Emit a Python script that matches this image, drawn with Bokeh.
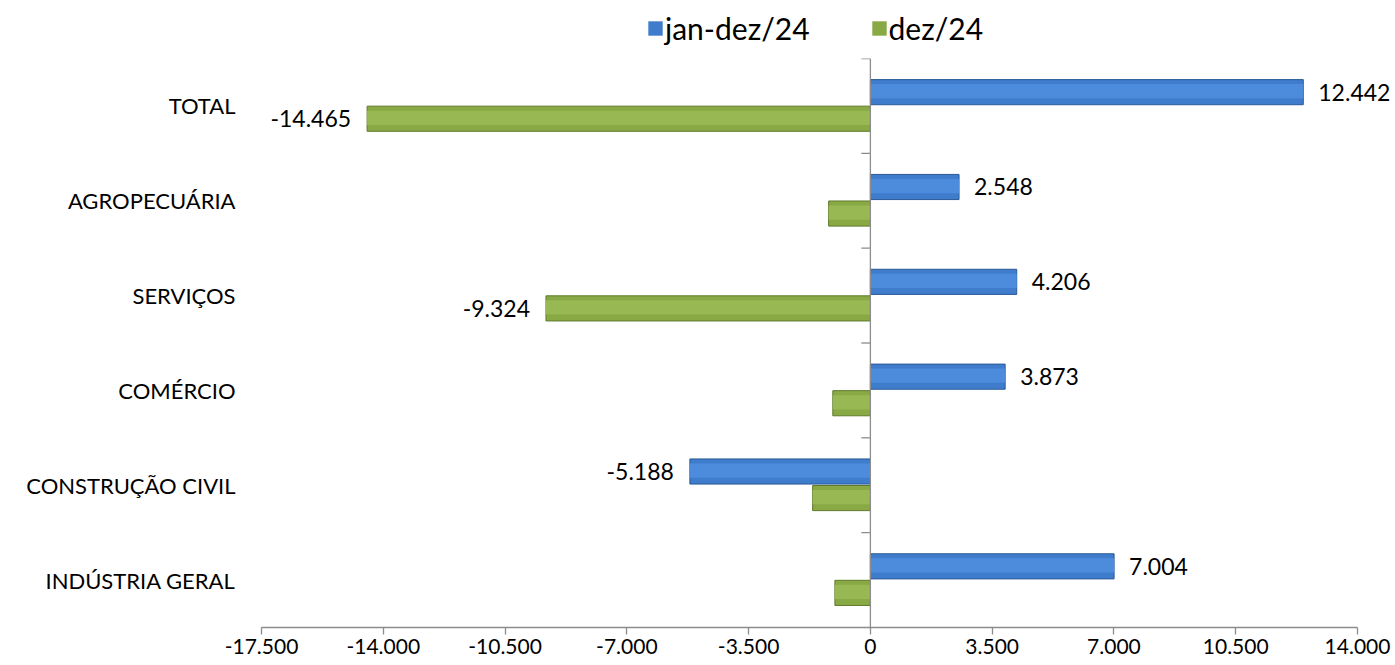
from bokeh.plotting import figure
from bokeh.layouts import column
from bokeh.models import (ColumnDataSource, FactorRange, FixedTicker, CustomJSTickFormatter,
                          Legend, LegendItem, LabelSet, Range1d)
from bokeh.transform import dodge
from bokeh.core.properties import value
from bokeh.embed import file_html
from bokeh.resources import INLINE

categories = ["TOTAL", "AGROPECUÁRIA", "SERVIÇOS", "COMÉRCIO", "CONSTRUÇÃO CIVIL", "INDÚSTRIA GERAL"]
series_names = ["jan-dez/24", "dez/24"]
jan_dez = [12442, 2548, 4206, 3873, -5188, 7004]
dez = [-14465, -1200, -9324, -1080, -1660, -1020]
show_dez_label = [True, False, True, False, False, False]
x_ticks = [-17500, -14000, -10500, -7000, -3500, 0, 3500, 7000, 10500, 14000]

FONT = "Lato"
AXIS_COLOR = "#8c8c8c"
BLUE, BLUE_LINE, BLUE_HI = "#3f7ccc", "#2a5a98", "#4d8cdc"
GREEN, GREEN_LINE, GREEN_HI = "#88a944", "#5f7a2a", "#98b853"

W, H_TOTAL, LEG_H = 1395, 665, 58
LEFT, RIGHT_PAD, BOTTOM = 261, 38, 38


def fmt(v):
    s = f"{abs(v):,}".replace(",", ".")
    return ("-" if v < 0 else "") + s


src = ColumnDataSource(dict(cat=categories, a=jan_dez, b=dez))

# frame extends to the right edge so that outer labels are not clipped
frame_w = W - LEFT
x_end = x_ticks[0] + (x_ticks[-1] - x_ticks[0]) * frame_w / (frame_w - RIGHT_PAD)

p = figure(width=W, height=H_TOTAL - LEG_H, output_backend="svg", toolbar_location=None,
           y_range=FactorRange(factors=list(reversed(categories))),
           x_range=Range1d(x_ticks[0], x_end),
           min_border_left=LEFT, min_border_right=0, min_border_top=0, min_border_bottom=BOTTOM)
p.outline_line_color = None
p.xgrid.visible = False
p.ygrid.visible = False
p.background_fill_color = "white"
p.border_fill_color = "white"

DA, DB, BH = 0.145, -0.135, 0.265
rb = p.hbar(y=dodge("cat", DA, range=p.y_range), left=0, right="a", height=BH, source=src,
            fill_color=BLUE, line_color=BLUE_LINE, line_width=1)
rg = p.hbar(y=dodge("cat", DB, range=p.y_range), left=0, right="b", height=BH, source=src,
            fill_color=GREEN, line_color=GREEN_LINE, line_width=1)
p.hbar(y=dodge("cat", DA + 0.01, range=p.y_range), left=0, right="a", height=0.15, source=src,
       fill_color=BLUE_HI, line_color=None)
p.hbar(y=dodge("cat", DB + 0.01, range=p.y_range), left=0, right="b", height=0.15, source=src,
       fill_color=GREEN_HI, line_color=None)

# vertical zero axis with category tick marks
tick_src = ColumnDataSource(dict(cat=categories, zero=[0] * len(categories)))
p.segment(x0="zero", x1="zero", y0=dodge("cat", 0.5, range=p.y_range), y1=dodge("cat", -0.5, range=p.y_range),
          source=tick_src, line_color=AXIS_COLOR, line_width=1.3)
p.segment(x0=-260, x1="zero", y0=dodge("cat", 0.5, range=p.y_range), y1=dodge("cat", 0.5, range=p.y_range),
          source=tick_src, line_color=AXIS_COLOR, line_width=1.3)

# data labels
pos_a = [(c, v, fmt(v)) for c, v in zip(categories, jan_dez) if v >= 0]
neg_a = [(c, v, fmt(v)) for c, v in zip(categories, jan_dez) if v < 0]
neg_b = [(c, v, fmt(v)) for c, v, s in zip(categories, dez, show_dez_label) if s]


def mk(rows):
    return ColumnDataSource(dict(cat=[r[0] for r in rows], x=[r[1] for r in rows], t=[r[2] for r in rows]))


for rows, dy, xo, align in [(pos_a, DA, 15, "left"), (neg_a, DA, -16, "right"), (neg_b, DB, -16, "right")]:
    p.add_layout(LabelSet(x="x", y=dodge("cat", dy, range=p.y_range), text="t", source=mk(rows),
                          x_offset=xo, text_align=align, text_baseline="middle", text_font=value(FONT),
                          text_font_size="23px", text_color="black"))

# x axis
p.xaxis.bounds = (x_ticks[0], x_ticks[-1])
p.xaxis.ticker = FixedTicker(ticks=x_ticks)
p.xaxis.formatter = CustomJSTickFormatter(code="""
const s = Math.abs(tick).toString().replace(/\\B(?=(\\d{3})+(?!\\d))/g, '.');
return (tick < 0 ? '-' : '') + s;
""")
p.xaxis.axis_line_color = AXIS_COLOR
p.xaxis.axis_line_width = 1.3
p.xaxis.major_tick_line_color = AXIS_COLOR
p.xaxis.major_tick_line_width = 1.3
p.xaxis.major_tick_out = 7
p.xaxis.major_tick_in = 0
p.xaxis.minor_tick_line_color = None
p.xaxis.major_label_text_font = FONT
p.xaxis.major_label_text_font_size = "21px"
p.xaxis.major_label_text_color = "black"
p.xaxis.major_label_standoff = 4

# y axis (category names only)
p.yaxis.axis_line_color = None
p.yaxis.major_tick_line_color = None
p.yaxis.minor_tick_line_color = None
p.yaxis.major_label_text_font = FONT
p.yaxis.major_label_text_font_size = "22px"
p.yaxis.major_label_text_color = "black"
p.yaxis.major_label_standoff = 20

# legend strip on top (its frame is aligned with the main frame by the column layout)
lf = figure(width=W, height=LEG_H, output_backend="svg", toolbar_location=None,
            x_range=Range1d(0, 1), y_range=Range1d(0, 1), x_axis_type=None, y_axis_type=None,
            min_border_left=LEFT, min_border_right=0, min_border_top=0, min_border_bottom=0)
lf.outline_line_color = None
lf.xgrid.visible = False
lf.ygrid.visible = False
# zero-size swatch renderers: only their legend samples are visible
lb = lf.quad(left=[0], right=[0], bottom=[0], top=[0], fill_color=BLUE, line_color=BLUE_LINE, line_alpha=0.6)
lg = lf.quad(left=[0], right=[0], bottom=[0], top=[0], fill_color=GREEN, line_color=GREEN_LINE, line_alpha=0.6)
lb.glyph.line_width = 0
lg.glyph.line_width = 0
legend = Legend(items=[LegendItem(label=series_names[0], renderers=[lb]),
                       LegendItem(label=series_names[1], renderers=[lg])],
                orientation="horizontal", location=(646 - LEFT, 12),
                label_text_font=FONT, label_text_font_size="30px", label_text_color="black",
                glyph_width=18, glyph_height=18, label_standoff=1, spacing=60,
                border_line_color=None, background_fill_alpha=0, padding=0, margin=0)
lf.add_layout(legend, "center")

layout = column(lf, p, spacing=0)
open("out.html", "w").write(file_html(layout, INLINE))
